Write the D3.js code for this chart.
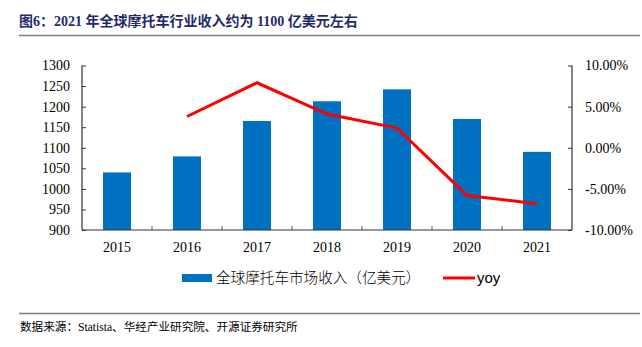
<!doctype html>
<html>
<head>
<meta charset="utf-8">
<script src="https://cdn.jsdelivr.net/npm/d3@7"></script>
<style>
  body{margin:0;background:#fff;}
  svg text{font-family:"Liberation Serif","Times New Roman",serif;}
</style>
</head>
<body>
<svg id="chart" width="642" height="347"></svg>
<script>
// data
var years = ['2015','2016','2017','2018','2019','2020','2021'];
var revenue = [1040, 1079, 1165, 1213, 1242, 1170, 1090];
var yoyYears = ['2016','2017','2018','2019','2020','2021'];
var yoy = [3.8, 7.9, 4.1, 2.4, -5.8, -6.8];
var leftTicks = [900,950,1000,1050,1100,1150,1200,1250,1300];
var rightTicks = [-10,-5,0,5,10];

var svg = d3.select('#chart');
var m = {left:82, right:572, top:65.5, bottom:230};

var x = d3.scaleBand().domain(years).range([m.left,m.right]).paddingInner(0.6).paddingOuter(0.3);
var xc = d3.scaleBand().domain(years).range([m.left,m.right]); // category slots
var yL = d3.scaleLinear().domain([900,1300]).range([m.bottom,m.top]);
var yR = d3.scaleLinear().domain([-10,10]).range([m.bottom,m.top]);

// title
svg.append('text').attr('x',19).attr('y',26)
  .attr('fill','#1f2a6b').attr('font-weight','bold').attr('font-size',14)
  .style('font-family','"Liberation Serif","Noto Sans CJK SC",serif')
  .text('图6：2021 年全球摩托车行业收入约为 1100 亿美元左右');
svg.append('line').attr('x1',19).attr('x2',640).attr('y1',35.5).attr('y2',35.5)
  .attr('stroke','#7f7f7f').attr('stroke-width',1.5);

// bars
svg.selectAll('rect.bar').data(years).enter().append('rect')
  .attr('class','bar')
  .attr('x',function(d){return x(d);})
  .attr('width',x.bandwidth())
  .attr('y',function(d,i){return yL(revenue[i]);})
  .attr('height',function(d,i){return m.bottom-yL(revenue[i]);})
  .attr('fill','#0070c0');

// axes
var axL = d3.axisLeft(yL).tickValues(leftTicks).tickSize(-4).tickPadding(12).tickFormat(d3.format('d'));
var gL = svg.append('g').attr('transform','translate('+m.left+',0)').call(axL);
var axR = d3.axisRight(yR).tickValues(rightTicks).tickSize(-4).tickPadding(13)
  .tickFormat(function(d){return d.toFixed(2)+'%';});
var gR = svg.append('g').attr('transform','translate('+m.right+',0)').call(axR);
var axB = d3.axisBottom(xc).tickSize(0).tickPadding(12);
var gB = svg.append('g').attr('transform','translate(0,'+m.bottom+')').call(axB);
// bottom ticks between categories
svg.selectAll('line.sep').data(years.slice(1)).enter().append('line')
  .attr('class','sep')
  .attr('x1',function(d){return xc(d);}).attr('x2',function(d){return xc(d);})
  .attr('y1',m.bottom).attr('y2',m.bottom-4)
  .attr('stroke','#555');

[gL,gR,gB].forEach(function(g){
  g.selectAll('path.domain').attr('stroke','#333').attr('stroke-width',1.2);
  g.selectAll('.tick line').attr('stroke','#333');
  g.selectAll('text').attr('font-size',14).attr('fill','#000')
    .style('font-family','"Liberation Serif",serif');
});
gL.select('path.domain').attr('d','M0,'+m.top+'V'+m.bottom);
gR.select('path.domain').attr('d','M0,'+m.top+'V'+m.bottom);
gB.select('path.domain').attr('d','M'+m.left+',0H'+m.right);

// yoy line
var line = d3.line()
  .x(function(d,i){return xc(yoyYears[i])+xc.bandwidth()/2;})
  .y(function(d){return yR(d);});
svg.append('path').datum(yoy).attr('d',line)
  .attr('fill','none').attr('stroke','#ff0000').attr('stroke-width',3);

// legend
svg.append('rect').attr('x',182).attr('y',274).attr('width',30).attr('height',8).attr('fill','#0070c0');
svg.append('text').attr('x',216).attr('y',283).attr('font-size',14.6)
  .style('font-family','"Noto Sans CJK SC",sans-serif').style('font-weight',300)
  .text('全球摩托车市场收入（亿美元）');
svg.append('line').attr('x1',443).attr('x2',475).attr('y1',278).attr('y2',278)
  .attr('stroke','#ff0000').attr('stroke-width',3);
svg.append('text').attr('x',477).attr('y',283).attr('font-size',15).text('yoy')
  .style('font-family','"Liberation Sans",sans-serif');

// footer
svg.append('line').attr('x1',19).attr('x2',640).attr('y1',313.5).attr('y2',313.5)
  .attr('stroke','#7f7f7f').attr('stroke-width',1.5);
svg.append('text').attr('x',20).attr('y',331).attr('font-size',11.6)
  .style('font-family','"Liberation Serif","Noto Sans CJK SC",serif')
  .text('数据来源：Statista、华经产业研究院、开源证券研究所');
</script>
</body>
</html>
